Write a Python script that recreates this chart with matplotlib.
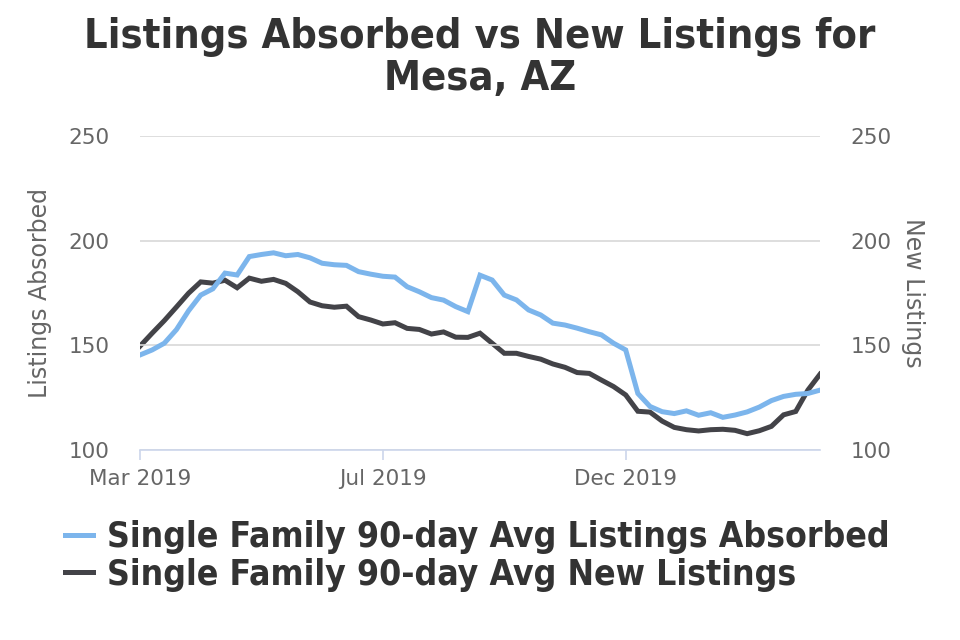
import matplotlib
matplotlib.use("Agg")
import matplotlib.pyplot as plt
from matplotlib.lines import Line2D

# weekly 90-day averages, Mar 2019 -> Mar 2020
absorbed = [
    145.4, 147.8, 151.0, 157.5, 166.5, 174.0, 177.0, 184.5, 183.6, 192.4,
    193.4, 194.2, 192.8, 193.4, 191.8, 189.2, 188.5, 188.2, 185.2, 184.0,
    183.0, 182.6, 178.0, 175.6, 172.8, 171.6, 168.5, 166.1, 183.5, 181.2,
    174.0, 171.7, 166.9, 164.5, 160.6, 159.7, 158.2, 156.5, 155.0, 151.0,
    147.8, 127.0, 120.8, 118.3, 117.4, 118.7, 116.6, 117.8, 115.6, 116.7,
    118.2, 120.5, 123.6, 125.6, 126.6, 127.0, 128.6,
]
new_listings = [
    149.6, 155.8, 161.8, 168.3, 174.9, 180.3, 179.7, 181.1, 177.5, 182.1,
    180.6, 181.5, 179.6, 175.6, 170.7, 168.9, 168.2, 168.7, 163.7, 162.1,
    160.2, 160.8, 158.1, 157.6, 155.4, 156.4, 153.9, 153.8, 155.8, 151.0,
    146.2, 146.2, 144.7, 143.4, 141.1, 139.5, 137.0, 136.6, 133.4, 130.3,
    126.3, 118.5, 118.1, 113.8, 110.8, 109.7, 109.1, 109.7, 109.9, 109.4,
    107.8, 109.2, 111.3, 116.8, 118.4, 128.6, 136.2,
]
tick_pos = [0, 20, 40]
tick_labels = ["Mar 2019", "Jul 2019", "Dec 2019"]

BLUE = "#7cb5ec"
DARK = "#434348"
GRID = "#d8d8d8"
AXIS = "#ccd6eb"
LABEL = "#666666"
TITLE = "#333333"

fig = plt.figure(figsize=(9.6, 6.4), dpi=100)
ax = fig.add_axes([140 / 960, 1 - 450 / 640, 680 / 960, 314 / 640])
ax2 = ax.twinx()

x = list(range(len(absorbed)))
ax.plot(x, absorbed, color=BLUE, lw=3.6, solid_joinstyle="miter", zorder=3)
ax2.plot(x, new_listings, color=DARK, lw=3.6, solid_joinstyle="miter", zorder=3)

for a in (ax, ax2):
    a.set_ylim(100, 250)
    a.set_yticks([100, 150, 200, 250])
    a.set_xlim(0, len(absorbed) - 1)
    for s in a.spines.values():
        s.set_visible(False)
    a.tick_params(axis="y", length=0, labelsize=15.5, labelcolor=LABEL, pad=22)

ax.spines["bottom"].set_visible(True)
ax.spines["bottom"].set_color(AXIS)
ax.spines["bottom"].set_linewidth(1.2)
ax.yaxis.grid(True, color=GRID, lw=1.2)
ax.set_axisbelow(True)
ax.set_xticks(tick_pos)
ax.set_xticklabels(tick_labels)
ax.tick_params(axis="x", length=7, width=1.2, color=AXIS, labelsize=15.5,
               labelcolor=LABEL, pad=7)
ax.set_ylabel("Listings Absorbed", fontsize=17, color=LABEL, labelpad=12)
ax2.set_ylabel("New Listings", fontsize=17, color=LABEL, rotation=270,
               labelpad=24)
ax.set_zorder(ax2.get_zorder() + 1)
ax.patch.set_visible(False)

fig.text(0.5, 1 - 58 / 640, "Listings Absorbed vs New Listings for\nMesa, AZ",
         ha="center", va="center", fontsize=29.8, fontweight="bold",
         color=TITLE, linespacing=1.06, fontstretch="condensed")

handles = [Line2D([], [], color=BLUE, lw=3.6), Line2D([], [], color=DARK, lw=3.6)]
fig.legend(handles,
           ["Single Family 90-day Avg Listings Absorbed",
            "Single Family 90-day Avg New Listings"],
           loc="upper left", bbox_to_anchor=(65 / 960, 1 - 520 / 640),
           frameon=False, borderpad=0, borderaxespad=0,
           handlelength=0.8, handletextpad=0.38,
           labelspacing=0.1, labelcolor=TITLE,
           prop={"size": 25.5, "weight": "bold", "stretch": "condensed"})

fig.savefig("out.png", dpi=100)
